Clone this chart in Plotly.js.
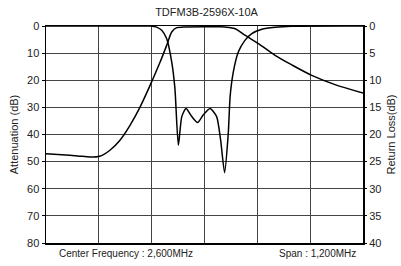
<!DOCTYPE html>
<html><head><meta charset="utf-8">
<script src="https://cdn.plot.ly/plotly-3.0.1.min.js"></script>
<style>html,body{margin:0;padding:0;background:#fff}#c{width:401px;height:266px}</style>
</head><body><div id="c"></div>
<script>
// Attenuation curve (left axis, dB)
const attFreq = [2000,2060,2120,2167,2204,2242,2280,2318,2356,2394,2432,2457,2476,2495,2520,2600,2660,2678,2716,2753,2804,2867,2930,3006,3094,3200];
const attVal  = [47.1,47.5,47.9,48.3,48.0,45.8,42.1,36.6,29.9,21.9,13.3,7.1,2.2,0.6,0.4,0.3,0.3,0.4,1.0,3.4,6.5,10.8,14.3,18.2,21.6,24.7];
// Return loss curve (right axis, dB)
const rlFreq = [2000,2300,2394,2419,2438,2457,2476,2488,2501,2514,2530,2552,2574,2595,2621,2646,2661,2676,2690,2697,2709,2728,2753,2779,2817,2867,2930,3200];
const rlVal  = [0.0,0.0,0.02,0.2,0.8,2.35,6.65,11.5,22.0,16.7,15.2,16.7,17.8,16.4,15.2,16.7,21.0,27.05,19.8,13.0,8.5,4.8,2.65,1.4,0.6,0.25,0.05,0.0];
const titleText = 'TDFM3B-2596X-10A';
const leftTicks = [0,10,20,30,40,50,60,70,80];
const rightTicks = [0,5,10,15,20,25,30,35,40];

const font = {family:'"Liberation Sans", Arial, sans-serif', size:11, color:'#222'};
const traces = [
  {x:attFreq, y:attVal, type:'scatter', mode:'lines', line:{color:'#000', width:1.5, shape:'spline', smoothing:0.8}, yaxis:'y', hoverinfo:'skip'},
  {x:rlFreq, y:rlVal, type:'scatter', mode:'lines', line:{color:'#000', width:1.5, shape:'spline', smoothing:0.6}, yaxis:'y2', hoverinfo:'skip'}
];
const layout = {
  width:401, height:266,
  margin:{l:46, r:38, t:26, b:23},
  paper_bgcolor:'#fff', plot_bgcolor:'#fff',
  showlegend:false, font:font,
  title:{text:titleText, font:{family:font.family, size:11, color:'#222'}, x:0.515, xanchor:'center', y:0.955, yanchor:'middle'},
  xaxis:{range:[2000,3200], dtick:200, tick0:2000, showticklabels:false, showgrid:true, gridcolor:'#444', gridwidth:1,
         showline:true, linecolor:'#000', linewidth:1.5, mirror:true, zeroline:false, ticks:''},
  yaxis:{range:[80,0], tickvals:leftTicks, showgrid:true, gridcolor:'#444', gridwidth:1, zeroline:false,
         showline:true, linecolor:'#000', linewidth:1.5, mirror:true, ticks:'outside', ticklen:3, tickcolor:'#000',
         title:{text:'Attenuation (dB)', font:font, standoff:6}},
  yaxis2:{range:[40,0], tickvals:rightTicks, overlaying:'y', side:'right', showgrid:false, zeroline:false,
          ticks:'outside', ticklen:3, tickcolor:'#000',
          title:{text:'Return Loss(dB)', font:font, standoff:6}},
  annotations:[
    {text:'Center Frequency : 2,600MHz', xref:'paper', yref:'paper', x:0.035, y:-0.015, xanchor:'left', yanchor:'top', showarrow:false, font:{family:font.family, size:10, color:'#222'}},
    {text:'Span : 1,200MHz', xref:'paper', yref:'paper', x:0.985, y:-0.015, xanchor:'right', yanchor:'top', showarrow:false, font:{family:font.family, size:10, color:'#222'}}
  ]
};
Plotly.newPlot('c', traces, layout, {displayModeBar:false, staticPlot:true});
</script></body></html>
